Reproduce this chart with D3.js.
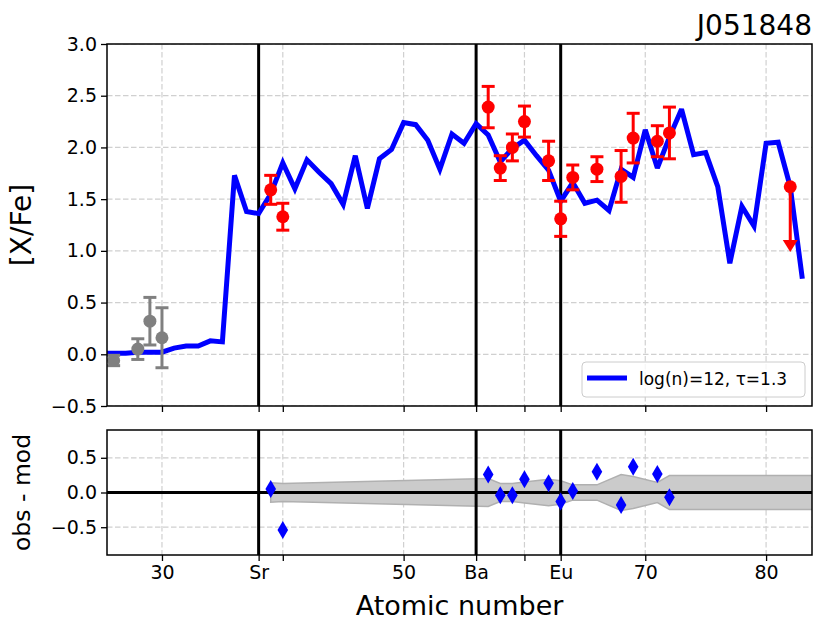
<!DOCTYPE html>
<html><head><meta charset="utf-8">
<script src="https://cdn.jsdelivr.net/npm/d3@7/dist/d3.min.js"></script>
<style>body{margin:0;background:#fff}svg{display:block;font-family:"DejaVu Sans",sans-serif}</style>
</head><body><svg id="c" width="830" height="623"></svg>
<script>
// ---- data ----
const modelZ = [25,26,27,28,29,30,31,32,33,34,35,36,37,38,39,40,41,42,43,44,45,46,47,48,49,50,51,52,53,54,55,56,57,58,59,60,61,62,63,64,65,66,67,68,69,70,71,72,73,74,75,76,77,78,79,80,81,82,83];
const modelY = [0.01,0.01,0.01,0.02,0.02,0.02,0.06,0.08,0.08,0.13,0.12,1.73,1.38,1.36,1.55,1.85,1.60,1.88,1.76,1.65,1.45,1.92,1.41,1.89,1.98,2.24,2.22,2.07,1.79,2.13,2.04,2.23,2.12,1.86,1.99,2.07,1.92,1.78,1.48,1.66,1.46,1.49,1.39,1.79,1.71,2.17,1.80,2.10,2.37,1.93,1.95,1.62,0.88,1.43,1.24,2.04,2.05,1.62,0.73];
const obsZ = [39,40,57,58,59,60,62,63,64,66,68,69,71,72];
const obsY = [1.59,1.33,2.39,1.80,2.00,2.25,1.87,1.31,1.71,1.79,1.72,2.09,2.06,2.14];
const obsErr = [0.14,0.13,0.20,0.12,0.13,0.15,0.19,0.17,0.12,0.12,0.25,0.24,0.15,0.25];
const grayZ = [26,28,29,30];
const grayY = [-0.06,0.05,0.32,0.16];
const grayErr = [0.05,0.10,0.23,0.29];
const limZ = [82];
const limY = [1.62];
const limTip = [0.99];
const resY = [0.05,-0.54,0.26,-0.04,-0.04,0.19,0.135,-0.13,0.02,0.30,-0.18,0.37,0.265,-0.07];
const bandZ = [39,40,57,58,59,60,62,63,64,66,68,69,71,72,82,84];
const bandErr = [0.14,0.13,0.20,0.13,0.13,0.15,0.19,0.17,0.11,0.11,0.26,0.23,0.145,0.245,0.245,0.245];
const xTickVals = [30,38,40,50,56,60,63,70,80];
const xTickLabels = ["30","Sr","","50","Ba","","Eu","70","80"];
const markerZ = [38,56,63];
const yTopTicks = [-0.5,0.0,0.5,1.0,1.5,2.0,2.5,3.0];
const yBotTicks = [-0.5,0.0,0.5];
const title = "J051848";
const legendLabel = "log(n)=12, τ=1.3";

// ---- layout ----
const svg = d3.select("#c");
const L = 107, R = 812, T1 = 44, B1 = 406, T2 = 430, B2 = 555;
const x = d3.scaleLinear().domain([25.45, 83.8]).range([L, R]);
const y1 = d3.scaleLinear().domain([-0.5, 3.0]).range([B1, T1]);
const y2 = d3.scaleLinear().domain([-0.9, 0.9]).range([B2, T2]);
const gridC = "#d0d0d0";

const defs = svg.append("defs");
defs.append("clipPath").attr("id","cp1").append("rect").attr("x",L).attr("y",T1).attr("width",R-L).attr("height",B1-T1);
defs.append("clipPath").attr("id","cp2").append("rect").attr("x",L).attr("y",T2).attr("width",R-L).attr("height",B2-T2);

function panel(y, top, bot, yt, cp) {
  const g = svg.append("g");
  const gg = g.append("g").attr("clip-path", `url(#${cp})`);
  gg.selectAll(".vg").data([30,40,50,60,70,80]).enter().append("line")
    .attr("x1", d=>x(d)).attr("x2", d=>x(d)).attr("y1", top).attr("y2", bot)
    .attr("stroke", gridC).attr("stroke-width",1.2).attr("stroke-dasharray","5.5,2.5");
  gg.selectAll(".hg").data(yt).enter().append("line")
    .attr("x1", L).attr("x2", R).attr("y1", d=>y(d)).attr("y2", d=>y(d))
    .attr("stroke", gridC).attr("stroke-width",1.2).attr("stroke-dasharray","5.5,2.5");
  const ya = g.append("g").attr("transform",`translate(${L},0)`)
    .call(d3.axisLeft(y).tickValues(yt).tickFormat(d3.format(".1f")).tickSize(6).tickPadding(4));
  ya.select(".domain").remove();
  ya.selectAll("text").attr("font-size",19).attr("font-family","DejaVu Sans").attr("fill","#000");
  ya.selectAll("line").attr("stroke-width",1.3);
  const xa = g.append("g").attr("transform",`translate(0,${bot})`)
    .call(d3.axisBottom(x).tickValues(xTickVals).tickFormat((d,i)=> cp==="cp2" ? xTickLabels[i] : "").tickSize(6).tickPadding(5));
  xa.select(".domain").remove();
  xa.selectAll("text").attr("font-size",19).attr("font-family","DejaVu Sans").attr("fill","#000");
  xa.selectAll("line").attr("stroke-width",1.3);
  return {g, gg};
}

const p1 = panel(y1, T1, B1, yTopTicks, "cp1");
const p2 = panel(y2, T2, B2, yBotTicks, "cp2");

const area = d3.area().x((d,i)=>x(bandZ[i])).y0((d,i)=>y2(-bandErr[i])).y1((d,i)=>y2(bandErr[i]));
p2.gg.append("path").datum(bandZ).attr("d", area).attr("fill","#cbcbcb").attr("stroke","#b0b0b0").attr("stroke-width",1.5);

[p1, p2].forEach((p, k) => {
  p.gg.selectAll(".ml").data(markerZ).enter().append("line")
    .attr("x1", d=>x(d)).attr("x2", d=>x(d)).attr("y1", k? T2 : T1).attr("y2", k? B2 : B1)
    .attr("stroke","#000").attr("stroke-width",3);
});
p2.gg.append("line").attr("x1",L).attr("x2",R).attr("y1",y2(0)).attr("y2",y2(0)).attr("stroke","#000").attr("stroke-width",3);

const line = d3.line().x((d,i)=>x(modelZ[i])).y(d=>y1(d));
p1.gg.append("path").datum(modelY).attr("d", line).attr("fill","none").attr("stroke","#0000ff")
  .attr("stroke-width",5).attr("stroke-linejoin","miter").attr("stroke-miterlimit",3);

function errbars(g, Z, Y, E, color) {
  Z.forEach((z,i)=>{
    const cx = x(z), t = y1(Y[i]+E[i]), b = y1(Y[i]-E[i]);
    g.append("line").attr("x1",cx).attr("x2",cx).attr("y1",t).attr("y2",b).attr("stroke",color).attr("stroke-width",3);
    [t,b].forEach(yy=> g.append("line").attr("x1",cx-6.5).attr("x2",cx+6.5).attr("y1",yy).attr("y2",yy).attr("stroke",color).attr("stroke-width",3));
    g.append("circle").attr("cx",cx).attr("cy",y1(Y[i])).attr("r",6.5).attr("fill",color);
  });
}
errbars(p1.gg, grayZ, grayY, grayErr, "#808080");
errbars(p1.gg, obsZ, obsY, obsErr, "#ff0000");

limZ.forEach((z,i)=>{
  const cx = x(z), y0 = y1(limY[i]), tip = y1(limTip[i]);
  p1.gg.append("line").attr("x1",cx).attr("x2",cx).attr("y1",y0).attr("y2",tip-10).attr("stroke","#ff0000").attr("stroke-width",3);
  p1.gg.append("path").attr("d",`M${cx-7.5},${tip-12}L${cx+7.5},${tip-12}L${cx},${tip}Z`).attr("fill","#ff0000");
  p1.gg.append("circle").attr("cx",cx).attr("cy",y0).attr("r",6.5).attr("fill","#ff0000");
});

obsZ.forEach((z,i)=>{
  const cx = x(z), cy = y2(resY[i]);
  p2.gg.append("path").attr("d",`M${cx},${cy-9}L${cx+5.3},${cy}L${cx},${cy+9}L${cx-5.3},${cy}Z`).attr("fill","#0000ff");
});

[[T1,B1],[T2,B2]].forEach(([t,b])=>{
  svg.append("rect").attr("x",L).attr("y",t).attr("width",R-L).attr("height",b-t).attr("fill","none").attr("stroke","#000").attr("stroke-width",1.5);
});

const lg = svg.append("g");
lg.append("rect").attr("x",582).attr("y",362).attr("width",223).attr("height",35).attr("rx",4)
  .attr("fill","#fff").attr("fill-opacity",0.8).attr("stroke","#cccccc").attr("stroke-width",1);
lg.append("line").attr("x1",587).attr("x2",627).attr("y1",378).attr("y2",378).attr("stroke","#0000ff").attr("stroke-width",5);
lg.append("text").attr("x",639).attr("y",385).attr("font-size",17).text(legendLabel);

svg.append("text").attr("x",R).attr("y",35).attr("text-anchor","end").attr("font-size",28).text(title);
svg.append("text").attr("transform",`translate(31,${(T1+B1)/2}) rotate(-90)`).attr("text-anchor","middle").attr("font-size",28).text("[X/Fe]");
svg.append("text").attr("transform",`translate(30,${(T2+B2)/2}) rotate(-90)`).attr("text-anchor","middle").attr("font-size",23.5).text("obs - mod");
svg.append("text").attr("x",(L+R)/2).attr("y",615).attr("text-anchor","middle").attr("font-size",27).text("Atomic number");
</script></body></html>
